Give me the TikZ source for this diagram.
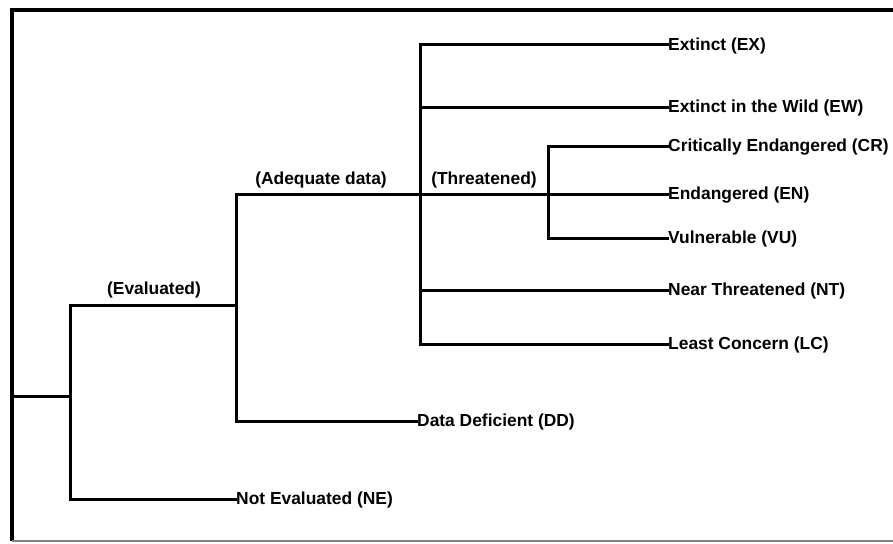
\documentclass[tikz,border=0pt]{standalone}
\usepackage{fontspec}
\setmainfont{Liberation Sans}
\begin{document}
\begin{tikzpicture}[x=1pt,y=-1pt,
  txt/.style={inner sep=1pt, font=\bfseries\fontsize{17.4}{19}\selectfont},
  leaf/.style={txt, anchor=west},
  tag/.style={txt, anchor=center},
  branch/.style={line width=3pt, line join=miter, line cap=rect}]
\useasboundingbox (0,0) rectangle (893,543);
% frame
\draw[line width=4.5pt] (893,10) -- (12,10) -- (12,541);
\draw[gray, line width=2pt] (12,541) -- (893,541);

% junction coordinates
\coordinate (root) at (12,396);
\coordinate (j1) at (70,396);
\coordinate (j1t) at (70,305);
\coordinate (j1b) at (70,499);
\coordinate (j2) at (236,305);
\coordinate (j2t) at (236,194);
\coordinate (j2b) at (236,421);
\coordinate (j3) at (420,194);
\coordinate (j3t) at (420,45);
\coordinate (j3a) at (420,107);
\coordinate (j3c) at (420,290);
\coordinate (j3b) at (420,344);
\coordinate (j4) at (548,194);
\coordinate (j4t) at (548,146);
\coordinate (j4b) at (548,238);

% leaves
\node[leaf] (ex) at (667,46) {Extinct (EX)};
\node[leaf] (ew) at (667,108) {Extinct in the Wild (EW)};
\node[leaf] (cr) at (667,147) {Critically Endangered (CR)};
\node[leaf] (en) at (667,195) {Endangered (EN)};
\node[leaf] (vu) at (667,239) {Vulnerable (VU)};
\node[leaf] (nt) at (667,291) {Near Threatened (NT)};
\node[leaf] (lc) at (667,345) {Least Concern (LC)};
\node[leaf] (dd) at (416,422) {Data Deficient (DD)};
\node[leaf] (ne) at (235,500) {Not Evaluated (NE)};

% branch labels
\node[tag] (evl) at (154,290) {(Evaluated)};
\node[tag] (adl) at (321,180) {(Adequate data)};
\node[tag] (thl) at (484,180) {(Threatened)};

% tree lines
\draw[branch] (root) -- (j1);
\draw[branch] (j1b) -- (j1t);
\draw[branch] (j1b) -- (ne.west |- j1b);
\draw[branch] (j1t) -- (j2);
\draw[branch] (j2b) -- (j2t);
\draw[branch] (j2b) -- (dd.west |- j2b);
\draw[branch] (j2t) -- (en.west |- j2t);
\draw[branch] (j3t) -- (j3b);
\draw[branch] (j3t) -- (ex.west |- j3t);
\draw[branch] (j3a) -- (ew.west |- j3a);
\draw[branch] (j3c) -- (nt.west |- j3c);
\draw[branch] (j3b) -- (lc.west |- j3b);
\draw[branch] (j4t) -- (j4b);
\draw[branch] (j4t) -- (cr.west |- j4t);
\draw[branch] (j4b) -- (vu.west |- j4b);
\end{tikzpicture}
\end{document}
